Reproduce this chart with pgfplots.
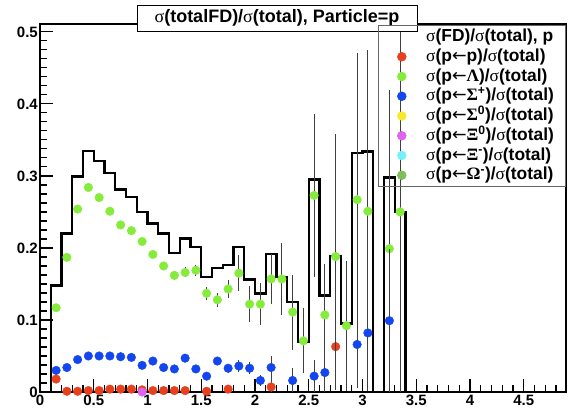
\documentclass[border=0pt]{standalone}
\usepackage{fontspec}
\setmainfont{Liberation Sans}
\newfontfamily\grk{Liberation Serif}
\newfontfamily\arr{DejaVu Sans}
\usepackage{pgfplots}
\pgfplotsset{compat=1.18}

\definecolor{cRed}{HTML}{E8401C}
\definecolor{cGreen}{HTML}{86EC3C}
\definecolor{cBlue}{HTML}{1446F0}
\definecolor{cYellow}{HTML}{F7EA2A}
\definecolor{cMag}{HTML}{E062F0}
\definecolor{cCyan}{HTML}{74F2FC}
\definecolor{cOlive}{HTML}{7CC05C}

\newcommand{\sg}{{\grk\mdseries σ}}
\newcommand{\la}{{\arr\mdseries ←}}
\newcommand{\lt}[1]{\makebox[136bp][l]{#1}}
\newcommand{\ent}[1]{\lt{\sg(p\la#1)/\sg(total)}}

\begin{document}
\begin{tikzpicture}
\useasboundingbox (0,0) rectangle (571bp,417bp);
\begin{axis}[
    at={(40bp,25bp)}, anchor=south west,
    scale only axis, width=526bp, height=368bp,
    xmin=0, xmax=4.893, ymin=0, ymax=0.511,
    xtick={0,0.5,1,1.5,2,2.5,3,3.5,4,4.5},
    ytick={0,0.1,0.2,0.3,0.4,0.5},
    minor xtick={0,0.1,...,4.85},
    minor ytick={0,0.0125,...,0.505},
    tick pos=left, tick align=inside,
    major tick length=13bp, minor tick length=7bp,
    axis line style={line width=1.6bp},
    every tick/.style={black, line width=1.1bp},
    ticklabel style={font=\fontsize{15bp}{15bp}\selectfont\bfseries},
    yticklabel style={inner sep=2bp},
    /pgf/number format/assume math mode=true,
    clip mode=individual,
    legend cell align=left,
    legend image code/.code={\path (0bp,0bp) (38bp,0bp); \draw[#1] plot coordinates {(20bp,0bp)};},
    legend style={at={(0.6426,0.997)}, anchor=north west, draw=black!60, line width=0.8bp,
        fill=none, inner xsep=3bp, inner ysep=3.5bp, row sep=3.75bp, column sep=6bp,
        font=\fontsize{17.4bp}{19bp}\selectfont\bfseries,
        nodes={inner sep=0pt, text height=12.5bp, text depth=3.5bp}},
    every axis plot/.append style={mark size=4.3bp},
    error bars/error bar style={black!75, line width=1bp},
]
% FD histogram
\addplot[const plot, black, line width=2.4bp, forget plot] coordinates {
 (0.1,0) (0.1,0.148) (0.2,0.220) (0.3,0.299) (0.4,0.335) (0.5,0.321) (0.6,0.304)
 (0.7,0.281) (0.8,0.271) (0.9,0.250) (1.0,0.234) (1.1,0.220) (1.2,0.193) (1.3,0.213)
 (1.4,0.201) (1.5,0.160) (1.6,0.172) (1.7,0.176) (1.8,0.201) (1.9,0.156) (2.0,0.137)
 (2.1,0.192) (2.2,0.160) (2.3,0.125) (2.4,0.070) (2.5,0.295) (2.6,0.134) (2.7,0.189)
 (2.8,0.095) (2.9,0.332) (3.0,0.334) (3.1,0) (3.2,0.298) (3.3,0.250) (3.4,0)
};
% p <- p
\addplot[only marks, mark=*, cRed, forget plot,
  error bars/.cd, y dir=both, y explicit, error mark=none] coordinates {
 (0.15,0.018) +- (0,0.001) (0.25,0.001) +- (0,0.001) (0.35,0.001) +- (0,0.001)
 (0.45,0.002) +- (0,0.001) (0.55,0.002) +- (0,0.001) (0.65,0.004) +- (0,0.001)
 (0.75,0.004) +- (0,0.001) (0.85,0.004) +- (0,0.001) (0.95,0.003) +- (0,0.001)
 (1.05,0.002) +- (0,0.001) (1.15,0.002) +- (0,0.001) (1.25,0.002) +- (0,0.001)
 (1.35,0.002) +- (0,0.001) (1.55,0.001) +- (0,0.002) (1.75,0.004) +- (0,0.005)
 (2.15,0.007) +- (0,0.012) (2.75,0.063) +- (0,0.06)
};
% p <- Lambda
\addplot[only marks, mark=*, cGreen, forget plot,
  error bars/.cd, y dir=both, y explicit, error mark=none] coordinates {
 (0.15,0.117) +- (0,0.002) (0.25,0.187) +- (0,0.002) (0.35,0.254) +- (0,0.002)
 (0.45,0.284) +- (0,0.002) (0.55,0.270) +- (0,0.002) (0.65,0.251) +- (0,0.003)
 (0.75,0.232) +- (0,0.003) (0.85,0.224) +- (0,0.003) (0.95,0.209) +- (0,0.004)
 (1.05,0.191) +- (0,0.004) (1.15,0.175) +- (0,0.005) (1.25,0.162) +- (0,0.006)
 (1.35,0.166) +- (0,0.007) (1.45,0.169) +- (0,0.008) (1.55,0.137) +- (0,0.009)
 (1.65,0.128) +- (0,0.010) (1.75,0.143) +- (0,0.013) (1.85,0.165) +- (0,0.025)
 (1.95,0.122) +- (0,0.025) (2.05,0.122) +- (0,0.029) (2.15,0.157) +- (0,0.035)
 (2.25,0.157) +- (0,0.050) (2.35,0.111) +- (0,0.052) (2.45,0.071) +- (0,0.045)
 (2.55,0.273) +- (0,0.113) (2.65,0.107) +- (0,0.071) (2.75,0.188) +- (0,0.170)
 (2.85,0.092) +- (0,0.090) (2.95,0.267) +- (0,0.204) (3.05,0.251) +- (0,0.224)
 (3.25,0.199) +- (0,0.220) (3.35,0.250) +- (0,0.270)
};
% p <- Sigma+
\addplot[only marks, mark=*, cBlue, forget plot,
  error bars/.cd, y dir=both, y explicit, error mark=none] coordinates {
 (0.15,0.030) +- (0,0.001) (0.25,0.034) +- (0,0.001) (0.35,0.045) +- (0,0.001)
 (0.45,0.050) +- (0,0.001) (0.55,0.050) +- (0,0.001) (0.65,0.050) +- (0,0.002)
 (0.75,0.049) +- (0,0.002) (0.85,0.048) +- (0,0.002) (0.95,0.037) +- (0,0.002)
 (1.05,0.043) +- (0,0.002) (1.15,0.034) +- (0,0.002) (1.25,0.032) +- (0,0.003)
 (1.35,0.047) +- (0,0.003) (1.45,0.032) +- (0,0.003) (1.55,0.022) +- (0,0.004)
 (1.65,0.043) +- (0,0.006) (1.75,0.033) +- (0,0.006) (1.85,0.036) +- (0,0.008)
 (1.95,0.033) +- (0,0.008) (2.05,0.016) +- (0,0.008) (2.15,0.034) +- (0,0.016)
 (2.35,0.016) +- (0,0.017) (2.55,0.022) +- (0,0.022) (2.65,0.027) +- (0,0.035)
 (2.95,0.066) +- (0,0.060) (3.05,0.082) +- (0,0.080) (3.25,0.099) +- (0,0.100)
};
% p <- Xi0
\addplot[only marks, mark=*, cMag, forget plot] coordinates {(0.95,0.0)};

\addlegendimage{empty legend}
\addlegendentry{\lt{\sg(FD)/\sg(total), p}}
\addlegendimage{only marks, mark=*, cRed}
\addlegendentry{\ent{p}}
\addlegendimage{only marks, mark=*, cGreen}
\addlegendentry{\ent{{\grk Λ}}}
\addlegendimage{only marks, mark=*, cBlue}
\addlegendentry{\ent{{\grk Σ}\textsuperscript{+}}}
\addlegendimage{only marks, mark=*, cYellow}
\addlegendentry{\ent{{\grk Σ}\textsuperscript{0}}}
\addlegendimage{only marks, mark=*, cMag}
\addlegendentry{\ent{{\grk Ξ}\textsuperscript{0}}}
\addlegendimage{only marks, mark=*, cCyan}
\addlegendentry{\ent{{\grk Ξ}\textsuperscript{-}}}
\addlegendimage{only marks, mark=*, cOlive}
\addlegendentry{\ent{{\grk Ω}\textsuperscript{-}}}

\node[draw, fill=white, line width=1bp, minimum width=280bp, minimum height=26bp,
      inner sep=0pt, font=\fontsize{18bp}{20bp}\selectfont\bfseries]
  at (rel axis cs:0.4506,1.016) {\sg(totalFD)/\sg(total), Particle=p};
\end{axis}
\end{tikzpicture}
\end{document}
